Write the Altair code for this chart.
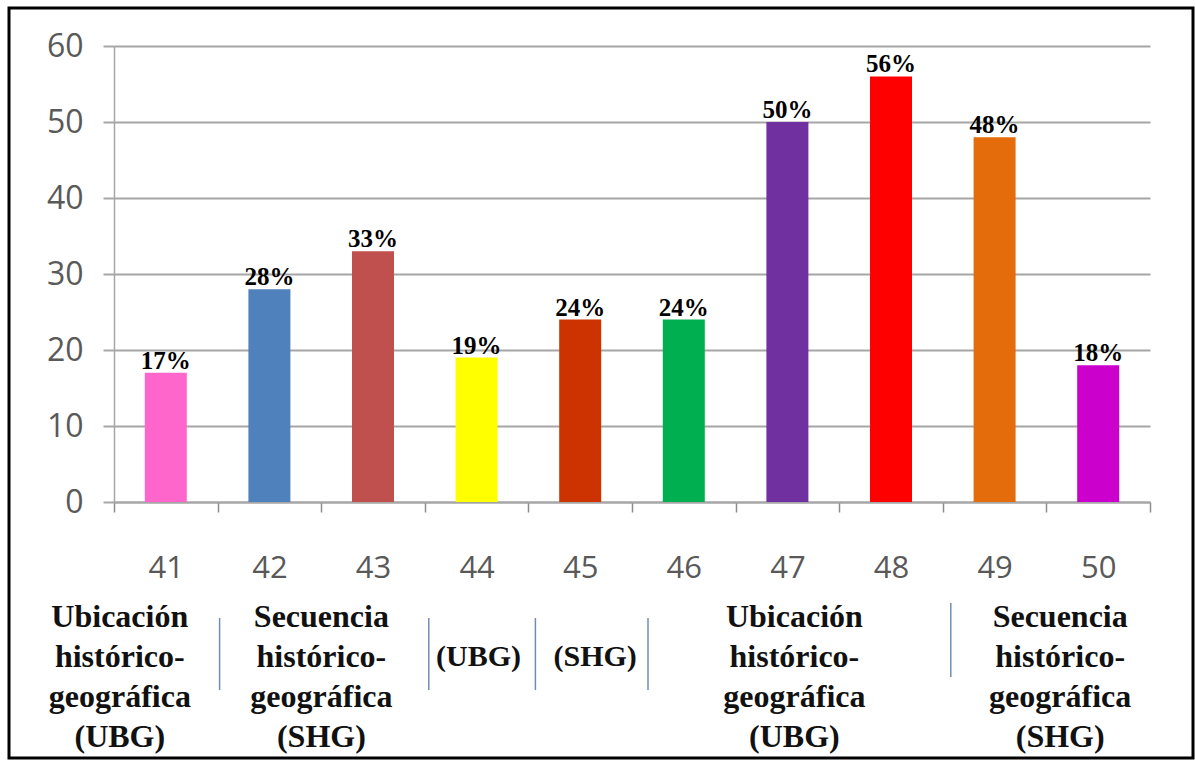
import altair as alt
import pandas as pd

categories = ["41", "42", "43", "44", "45", "46", "47", "48", "49", "50"]
values = [17, 28, 33, 19, 24, 24, 50, 56, 48, 18]
bar_colors = ["#FF66CC", "#4F81BD", "#C0504D", "#FFFF00", "#CC3300",
              "#00B050", "#7030A0", "#FF0000", "#E46C0A", "#CC00CC"]
value_labels = ["17%", "28%", "33%", "19%", "24%", "24%", "50%", "56%", "48%", "18%"]

group_texts = [
    "Ubicación\nhistórico-\ngeográfica\n(UBG)",
    "Secuencia\nhistórico-\ngeográfica\n(SHG)",
    "(UBG)",
    "(SHG)",
    "Ubicación\nhistórico-\ngeográfica\n(UBG)",
    "Secuencia\nhistórico-\ngeográfica\n(SHG)",
]
group_anchor = ["41", "42", "44", "45", "47", "50"]
separator_anchor = ["42", "44", "45", "46", "49"]

W, H = 1036, 456
df = pd.DataFrame({"q": categories, "v": values, "c": bar_colors, "lab": value_labels})

xscale = alt.Scale(domain=categories, paddingInner=0, paddingOuter=0)

bars = alt.Chart(df).mark_bar(size=42).encode(
    x=alt.X("q:N", scale=xscale, sort=None,
            axis=alt.Axis(title=None, labelAngle=0, tickBand="extent",
                          labelFont="Open Sans", labelFontSize=31, labelColor="#595959",
                          labelPadding=41, tickSize=10, tickColor="#8C8C8C",
                          domainColor="#A6A6A6", domainWidth=2, tickWidth=1.5)),
    y=alt.Y("v:Q", scale=alt.Scale(domain=[0, 60]),
            axis=alt.Axis(title=None, values=[0, 10, 20, 30, 40, 50, 60],
                          labelFont="Open Sans", labelFontSize=32, labelColor="#595959",
                          labelPadding=20, tickSize=11, tickColor="#A6A6A6", tickWidth=2,
                          grid=True, gridColor="#A6A6A6", gridWidth=2,
                          domainColor="#A6A6A6", domainWidth=1.5)),
    color=alt.Color("c:N", scale=None),
)

labels = alt.Chart(df).mark_text(
    font="Liberation Serif", fontWeight="bold", fontSize=25, baseline="alphabetic", dy=-4, color="black"
).encode(
    x=alt.X("q:N", scale=xscale, sort=None),
    y=alt.Y("v:Q"),
    text="lab:N",
)

layers = [bars, labels]

offsets = [-46, 52, 2, 15, 7, -38]
for txt, anc, off in zip(group_texts, group_anchor, offsets):
    single = "\n" not in txt
    gdf = pd.DataFrame({"q": [anc], "t": [txt]})
    layers.append(
        alt.Chart(gdf).mark_text(
            font="Liberation Serif", fontWeight="bold", fontSize=30 if single else 32,
            lineBreak="\n", lineHeight=40,
            baseline="middle" if single else "top", align="center", dx=off, color="#111111"
        ).encode(
            x=alt.X("q:N", scale=xscale, sort=None),
            y=alt.value(611 if single else 556),
            text="t:N",
        )
    )

sep_offsets = [2, 4, 7, 16, 8]
sep_y = [(572, 644), (572, 644), (572, 644), (572, 644), (557, 631)]
for anc, off, (y1, y2) in zip(separator_anchor, sep_offsets, sep_y):
    sdf = pd.DataFrame({"q": [anc]})
    layers.append(
        alt.Chart(sdf).mark_rule(color="#6F8FAF", strokeWidth=1.5, xOffset=off).encode(
            x=alt.X("q:N", scale=xscale, sort=None, bandPosition=0),
            y=alt.value(y1), y2=alt.value(y2),
        )
    )

frame = alt.Chart(pd.DataFrame({"a": [0]})).mark_rect(
    fill=None, stroke="black", strokeWidth=3
).encode(
    x=alt.value(-105), x2=alt.value(1079), y=alt.value(-38), y2=alt.value(712)
)
layers.append(frame)

chart = alt.layer(*layers).properties(
    width=W, height=H,
    autosize=alt.AutoSizeParams(type="none"),
    padding={"left": 114, "top": 46, "right": 45, "bottom": 260},
    background="white",
).configure_view(stroke=None)

chart.save("out.html", embed_options={"renderer": "svg", "actions": False})
